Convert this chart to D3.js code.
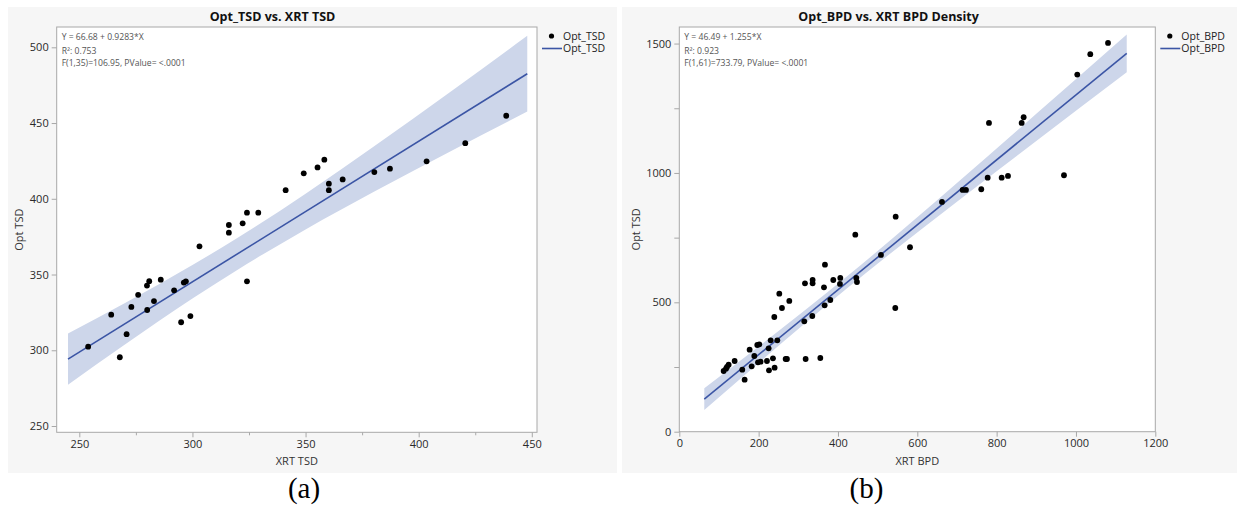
<!DOCTYPE html>
<html>
<head>
<meta charset="utf-8">
<script src="https://cdn.jsdelivr.net/npm/d3@7"></script>
<style>
  body { margin: 0; background: #fff; }
  svg text { font-family: "Segoe UI", "Open Sans", sans-serif; }
  svg text.letter { font-family: "Liberation Serif", "Times New Roman", serif; }
</style>
</head>
<body>
<svg id="chart" width="1239" height="512"></svg>
<script>
// ---- Panel (a): Opt_TSD vs. XRT TSD ----
const tsdX = [253.9, 264.1, 267.9, 270.9, 273.0, 276.0, 279.9, 280.0, 280.9, 283.0,
              286.0, 291.9, 295.0, 296.2, 297.1, 299.1, 303.1, 316.1, 316.1, 322.2,
              324.1, 324.1, 329.1, 341.2, 349.2, 355.3, 358.3, 360.3, 360.3, 366.4,
              380.4, 387.3, 403.5, 420.6, 438.7];
const tsdY = [302.4, 323.5, 295.4, 310.6, 328.6, 336.6, 342.7, 326.6, 345.6, 332.5,
              346.6, 339.6, 318.5, 344.7, 345.5, 322.6, 368.6, 382.7, 377.6, 383.8,
              390.8, 345.5, 390.8, 405.7, 416.8, 420.7, 425.8, 410.0, 405.7, 412.8,
              417.6, 419.9, 424.7, 436.7, 454.8];
const tsdFit = [66.68, 0.9283];
const tsdFitRange = [245, 448];
const tsdBandX  = [245, 270, 300, 320, 350, 380, 415, 448];
const tsdBandLo = [277.2, 303.6, 334.1, 353.2, 379.8, 404.5, 432.1, 457.6];
const tsdBandHi = [311.0, 331.0, 356.3, 374.2, 403.4, 434.3, 471.7, 507.6];
const tsdXTicks = [250, 300, 350, 400, 450];
const tsdXMinor = [275, 325, 375, 425];
const tsdYTicks = [250, 300, 350, 400, 450, 500];
const tsdYMinor = [];
const tsdStats = ["Y = 66.68 + 0.9283*X", "R\u00B2: 0.753", "F(1,35)=106.95, PValue= <.0001"];

// ---- Panel (b): Opt_BPD vs. XRT BPD Density ----
const bpdX = [367.2, 316.8, 336.1, 336.1, 388.2, 405.9, 405.0, 364.7, 446.2, 447.9,
              508.4, 252.1, 277.3, 258.8, 380.7, 366.4, 335.3, 315.1, 239.5, 544.5,
              230.3, 247.1, 225.2, 196.6, 201.7, 177.3, 189.1, 198.3, 205.0, 221.0,
              236.1, 268.1, 271.4, 318.5, 355.5, 226.1, 240.3, 182.4, 158.8, 139.5,
              124.4, 120.2, 111.8, 164.7, 117.7, 443.7, 545.5, 581.6, 780.7, 863.1,
              868.1, 662.2, 714.3, 722.7, 761.3, 777.4, 812.7, 828.6, 969.8, 1003.3,
              1036.1, 1080.8];
const bpdY = [645.6, 573.5, 586.3, 573.5, 586.3, 594.1, 570.9, 558.0, 594.1, 578.6,
              683.0, 533.5, 505.2, 478.1, 509.0, 488.4, 447.2, 426.5, 443.3, 478.1,
              353.1, 353.1, 322.2, 335.0, 337.6, 317.0, 292.5, 268.0, 270.6, 273.2,
              283.5, 280.9, 280.9, 280.9, 284.8, 237.1, 247.4, 252.6, 239.7, 273.2,
              259.0, 250.0, 234.5, 201.0, 243.5, 761.5, 831.1, 712.8, 1193.3, 1193.3,
              1215.3, 887.9, 934.3, 934.3, 937.0, 981.8, 981.8, 988.4, 991.1, 1380.0,
              1458.8, 1502.5];
const bpdFit = [46.49, 1.255];
const bpdFitRange = [63, 1128];
const bpdBandX  = [63, 200, 420, 700, 900, 1128];
const bpdBandLo = [83.6, 265.9, 550.6, 889.1, 1123.4, 1388.7];
const bpdBandHi = [167.6, 329.1, 596.6, 960.9, 1228.6, 1535.5];
const bpdXTicks = [0, 200, 400, 600, 800, 1000, 1200];
const bpdXMinor = [];
const bpdYTicks = [0, 500, 1000, 1500];
const bpdYMinor = [250, 750, 1250];
const bpdStats = ["Y = 46.49 + 1.255*X", "R\u00B2: 0.923", "F(1,61)=733.79, PValue= <.0001"];

const BAND = '#cdd6ea';
const LINE = '#3b55a5';

const svg = d3.select('#chart');

function drawPanel(p) {
  const g = svg.append('g');

  // grey panel background
  g.append('rect')
    .attr('x', p.bg[0]).attr('y', 7)
    .attr('width', p.bg[1] - p.bg[0]).attr('height', 466)
    .attr('fill', '#f6f6f6');

  const x = d3.scaleLinear().domain(p.xDom).range([p.left, p.right]);
  const y = d3.scaleLinear().domain(p.yDom).range([p.bottom, p.top]);

  g.append('rect')
    .attr('x', p.left).attr('y', p.top)
    .attr('width', p.right - p.left).attr('height', p.bottom - p.top)
    .attr('fill', '#fff');

  // confidence band
  const band = p.bandX.map((v, i) => ({ x: v, lo: p.bandLo[i], hi: p.bandHi[i] }));
  g.append('path')
    .datum(band)
    .attr('fill', BAND)
    .attr('d', d3.area()
      .x(d => x(d.x)).y0(d => y(d.lo)).y1(d => y(d.hi))
      .curve(d3.curveMonotoneX));

  // fit line
  g.append('line')
    .attr('x1', x(p.fitRange[0])).attr('y1', y(p.fit[0] + p.fit[1] * p.fitRange[0]))
    .attr('x2', x(p.fitRange[1])).attr('y2', y(p.fit[0] + p.fit[1] * p.fitRange[1]))
    .attr('stroke', LINE).attr('stroke-width', 1.6);

  // points
  g.append('g').selectAll('circle')
    .data(p.xs.map((v, i) => [v, p.ys[i]]))
    .join('circle')
      .attr('cx', d => x(d[0])).attr('cy', d => y(d[1]))
      .attr('r', 2.9).attr('fill', '#000');

  // frame
  g.append('rect')
    .attr('x', p.left).attr('y', p.top)
    .attr('width', p.right - p.left).attr('height', p.bottom - p.top)
    .attr('fill', 'none').attr('stroke', '#a8a8a8').attr('stroke-width', 1);

  // axes
  const styleAxis = sel => {
    sel.select('.domain').remove();
    sel.selectAll('line').attr('stroke', '#a8a8a8');
    sel.selectAll('text').attr('fill', '#2a2a2a').attr('font-size', 11);
  };
  g.append('g').attr('transform', `translate(0,${p.bottom})`)
    .call(d3.axisBottom(x).tickValues(p.xTicks).tickSize(5).tickPadding(3).tickFormat(d3.format('d')))
    .call(styleAxis);
  g.append('g').attr('transform', `translate(0,${p.bottom})`)
    .call(d3.axisBottom(x).tickValues(p.xMinor).tickSize(3).tickFormat(''))
    .call(styleAxis);
  g.append('g').attr('transform', `translate(${p.left},0)`)
    .call(d3.axisLeft(y).tickValues(p.yTicks).tickSize(5).tickPadding(3).tickFormat(d3.format('d')))
    .call(styleAxis);
  g.append('g').attr('transform', `translate(${p.left},0)`)
    .call(d3.axisLeft(y).tickValues(p.yMinor).tickSize(5).tickFormat(''))
    .call(styleAxis);

  // title
  g.append('text')
    .attr('x', (p.bg[0] + p.right) / 2).attr('y', 21)
    .attr('text-anchor', 'middle')
    .attr('font-size', 12.5).attr('font-weight', 'bold').attr('fill', '#111')
    .text(p.title);

  // axis titles
  g.append('text')
    .attr('x', (p.left + p.right) / 2).attr('y', 465)
    .attr('text-anchor', 'middle').attr('font-size', 11).attr('fill', '#333')
    .text(p.xLabel);
  g.append('text')
    .attr('transform', `translate(${p.yLabelX},${(p.top + p.bottom) / 2}) rotate(-90)`)
    .attr('text-anchor', 'middle').attr('dy', '0.35em')
    .attr('font-size', 11).attr('fill', '#333')
    .text(p.yLabel);

  // stats text
  g.append('g').selectAll('text')
    .data(p.stats).join('text')
      .attr('x', p.left + 5)
      .attr('y', (d, i) => [40, 54, 66][i])
      .attr('font-size', 8.6).attr('fill', '#555')
      .text(d => d);

  // legend
  const lg = g.append('g').attr('transform', `translate(${p.right},0)`);
  lg.append('circle').attr('cx', 14.5).attr('cy', 36).attr('r', 2.6).attr('fill', '#000');
  lg.append('line').attr('x1', 5).attr('x2', 25).attr('y1', 48.5).attr('y2', 48.5)
    .attr('stroke', LINE).attr('stroke-width', 1.6);
  lg.selectAll('text.leg').data([36, 48.5]).join('text')
    .attr('class', 'leg')
    .attr('x', 26).attr('y', d => d).attr('dy', '0.35em')
    .attr('font-size', 10.5).attr('fill', '#222')
    .text(p.legend);

  // panel letter
  svg.append('text')
    .attr('class', 'letter')
    .attr('x', p.letterX).attr('y', 498)
    .attr('text-anchor', 'middle')
    .attr('font-size', 29).attr('fill', '#000')
    .text(p.letter);
}

drawPanel({
  bg: [8, 617], left: 56.7, right: 537, top: 27, bottom: 432.3,
  xDom: [240, 452.3], yDom: [245.85, 513.4],
  xs: tsdX, ys: tsdY, fit: tsdFit, fitRange: tsdFitRange,
  bandX: tsdBandX, bandLo: tsdBandLo, bandHi: tsdBandHi,
  xTicks: tsdXTicks, xMinor: tsdXMinor, yTicks: tsdYTicks, yMinor: tsdYMinor,
  title: 'Opt_TSD vs. XRT TSD', xLabel: 'XRT TSD', yLabel: 'Opt TSD', yLabelX: 19,
  stats: tsdStats, legend: 'Opt_TSD', letter: '(a)', letterX: 304
});

drawPanel({
  bg: [622, 1237], left: 679.3, right: 1155.3, top: 27, bottom: 431.7,
  xDom: [0, 1200], yDom: [0, 1564],
  xs: bpdX, ys: bpdY, fit: bpdFit, fitRange: bpdFitRange,
  bandX: bpdBandX, bandLo: bpdBandLo, bandHi: bpdBandHi,
  xTicks: bpdXTicks, xMinor: bpdXMinor, yTicks: bpdYTicks, yMinor: bpdYMinor,
  title: 'Opt_BPD vs. XRT BPD Density', xLabel: 'XRT BPD', yLabel: 'Opt TSD', yLabelX: 636,
  stats: bpdStats, legend: 'Opt_BPD', letter: '(b)', letterX: 866.5
});
</script>
</body>
</html>
